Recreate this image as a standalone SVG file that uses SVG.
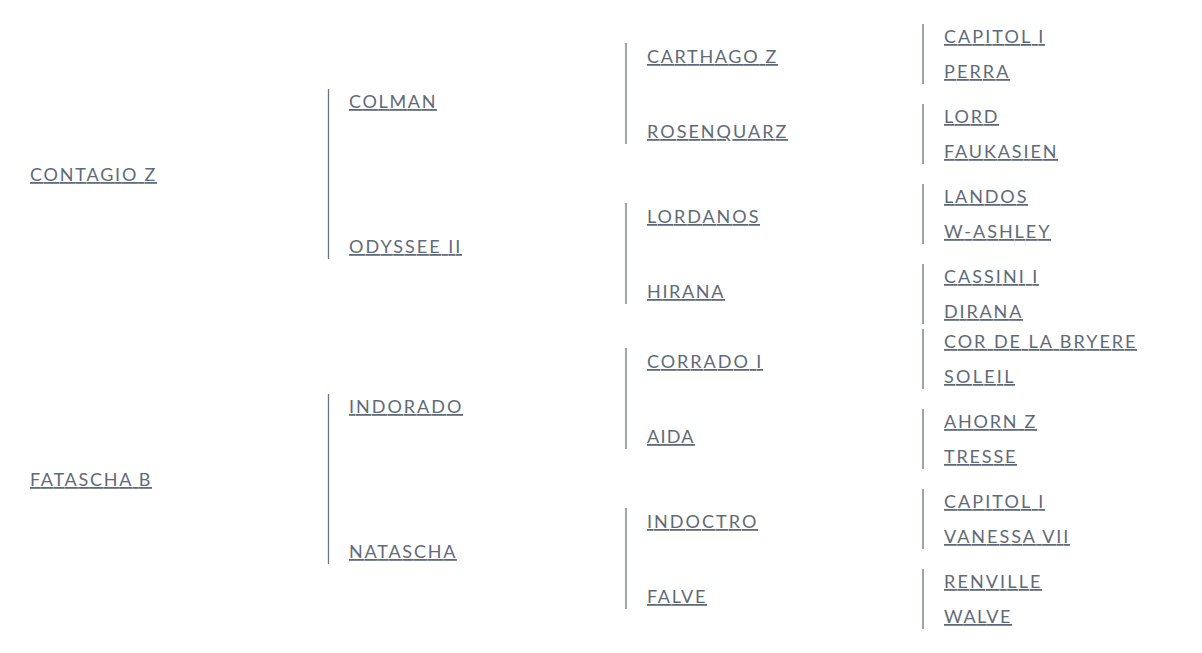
<svg xmlns="http://www.w3.org/2000/svg" width="1202" height="653" viewBox="0 0 1202 653">
<style>
text{font-family:Lato,"Open Sans","Liberation Sans",sans-serif;font-size:18px;fill:#5f6b78;text-decoration:underline;letter-spacing:1.6px}
.c line{stroke:#6b7580;stroke-width:1.3}
</style>
<rect width="1202" height="653" fill="#fff"/>
<g class="c" id="connectors">
<line x1="328.5" y1="89" x2="328.5" y2="259"/>
<line x1="328.5" y1="394" x2="328.5" y2="564"/>
<line x1="626" y1="43" x2="626" y2="144"/>
<line x1="626" y1="203" x2="626" y2="304"/>
<line x1="626" y1="348" x2="626" y2="449"/>
<line x1="626" y1="508" x2="626" y2="609"/>
<line x1="923" y1="24" x2="923" y2="84"/>
<line x1="923" y1="104" x2="923" y2="164"/>
<line x1="923" y1="184" x2="923" y2="244"/>
<line x1="923" y1="264" x2="923" y2="324"/>
<line x1="923" y1="329" x2="923" y2="389"/>
<line x1="923" y1="409" x2="923" y2="469"/>
<line x1="923" y1="489" x2="923" y2="549"/>
<line x1="923" y1="569" x2="923" y2="629"/>
</g>
<g id="n-contagio"><text x="30" y="181" textLength="127" lengthAdjust="spacing">CONTAGIO Z</text></g>
<g id="n-fatascha"><text x="30" y="486" textLength="122" lengthAdjust="spacing">FATASCHA B</text></g>
<g id="n-colman"><text x="349" y="108" textLength="88" lengthAdjust="spacing">COLMAN</text></g>
<g id="n-odyssee"><text x="349" y="253" textLength="113" lengthAdjust="spacing">ODYSSEE II</text></g>
<g id="n-indorado"><text x="349" y="413" textLength="114" lengthAdjust="spacing">INDORADO</text></g>
<g id="n-natascha"><text x="349" y="558" textLength="108" lengthAdjust="spacing">NATASCHA</text></g>
<g id="n-carthago"><text x="647" y="63" textLength="131" lengthAdjust="spacing">CARTHAGO Z</text></g>
<g id="n-rosenquarz"><text x="647" y="138" textLength="141" lengthAdjust="spacing">ROSENQUARZ</text></g>
<g id="n-lordanos"><text x="647" y="223" textLength="113" lengthAdjust="spacing">LORDANOS</text></g>
<g id="n-hirana"><text x="647" y="298" textLength="78" lengthAdjust="spacing">HIRANA</text></g>
<g id="n-corrado"><text x="647" y="368" textLength="116" lengthAdjust="spacing">CORRADO I</text></g>
<g id="n-aida"><text x="647" y="443" textLength="48" lengthAdjust="spacing">AIDA</text></g>
<g id="n-indoctro"><text x="647" y="528" textLength="111" lengthAdjust="spacing">INDOCTRO</text></g>
<g id="n-falve"><text x="647" y="603" textLength="60" lengthAdjust="spacing">FALVE</text></g>
<g id="n-capitol1"><text x="944" y="43" textLength="101" lengthAdjust="spacing">CAPITOL I</text></g>
<g id="n-perra"><text x="944" y="78" textLength="66" lengthAdjust="spacing">PERRA</text></g>
<g id="n-lord"><text x="944" y="123" textLength="55" lengthAdjust="spacing">LORD</text></g>
<g id="n-faukasien"><text x="944" y="158" textLength="114" lengthAdjust="spacing">FAUKASIEN</text></g>
<g id="n-landos"><text x="944" y="203" textLength="84" lengthAdjust="spacing">LANDOS</text></g>
<g id="n-washley"><text x="944" y="238" textLength="107" lengthAdjust="spacing">W-ASHLEY</text></g>
<g id="n-cassini"><text x="944" y="283" textLength="95" lengthAdjust="spacing">CASSINI I</text></g>
<g id="n-dirana"><text x="944" y="318" textLength="79" lengthAdjust="spacing">DIRANA</text></g>
<g id="n-cor"><text x="944" y="348" textLength="193" lengthAdjust="spacing">COR DE LA BRYERE</text></g>
<g id="n-soleil"><text x="944" y="383" textLength="71" lengthAdjust="spacing">SOLEIL</text></g>
<g id="n-ahorn"><text x="944" y="428" textLength="93" lengthAdjust="spacing">AHORN Z</text></g>
<g id="n-tresse"><text x="944" y="463" textLength="73" lengthAdjust="spacing">TRESSE</text></g>
<g id="n-capitol2"><text x="944" y="508" textLength="101" lengthAdjust="spacing">CAPITOL I</text></g>
<g id="n-vanessa"><text x="944" y="543" textLength="126" lengthAdjust="spacing">VANESSA VII</text></g>
<g id="n-renville"><text x="944" y="588" textLength="98" lengthAdjust="spacing">RENVILLE</text></g>
<g id="n-walve"><text x="944" y="623" textLength="68" lengthAdjust="spacing">WALVE</text></g>
</svg>
